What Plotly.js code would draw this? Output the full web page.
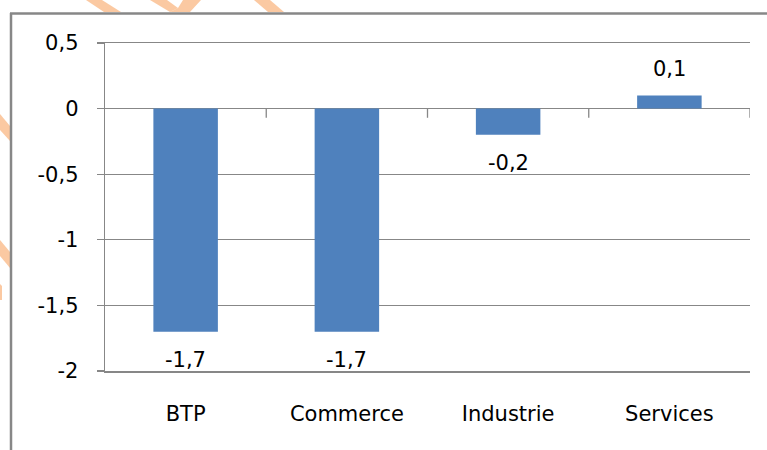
<!DOCTYPE html>
<html>
<head>
<meta charset="utf-8">
<script src="https://cdn.plot.ly/plotly-3.0.1.min.js"></script>
<style>html,body{margin:0;padding:0;background:#fff;}#chart{width:767px;height:450px;}</style>
</head>
<body>
<div id="chart"></div>
<script>
const categories = ['BTP', 'Commerce', 'Industrie', 'Services'];
const values = [-1.7, -1.7, -0.2, 0.1];
const tickValues = [0.5, 0, -0.5, -1, -1.5, -2];
const tickLabels = ['0,5', '0', '-0,5', '-1', '-1,5', '-2'];

const W = 767, H = 450;
const M = {l: 105, r: 17, t: 43, b: 79};
const pw = W - M.l - M.r, ph = H - M.t - M.b;
const grey = '#878787';
const px = x => (x - M.l) / pw;
const py = y => 1 - (y - M.t) / ph;

function poly(pts) {
  return 'M' + pts.map(p => px(p[0]) + ',' + py(p[1])).join(' L') + ' Z';
}

const shapes = [];
// frame lines (left and top)
shapes.push({type: 'line', xref: 'paper', yref: 'paper', x0: px(11), x1: px(11), y0: py(13), y1: py(H + 5), line: {color: grey, width: 2.5}});
shapes.push({type: 'line', xref: 'paper', yref: 'paper', x0: px(10), x1: px(W + 5), y0: py(13.5), y1: py(13.5), line: {color: grey, width: 2.5}});
// orange watermark fragments
const orange = 'rgba(248,165,100,0.6)';
const wm = [
  [[86,0],[102,0],[121,12],[104,12]],
  [[150,0],[167,0],[178,8],[170,12]],
  [[183,0],[201,0],[190,12],[170,12],[178,8]],
  [[254,0],[270,0],[284,12],[268,12]],
  [[0,114],[0,130],[10,141],[10,126]],
  [[0,240],[0,256],[10,268],[10,252]],
  [[0,284],[2,286],[2,300],[0,300]]
];
wm.forEach(p => shapes.push({type: 'path', xref: 'paper', yref: 'paper', path: poly(p), fillcolor: orange, line: {width: 0}, layer: 'below'}));
// category separator ticks on zero line
categories.forEach((c, i) => {
  shapes.push({type: 'line', xref: 'x', yref: 'y', x0: i + 0.5, x1: i + 0.5, y0: 0, y1: -0.07, line: {color: grey, width: 1.3}});
});

const annotations = categories.map((c, i) => ({
  x: c, y: values[i], xref: 'x', yref: 'y',
  text: String(values[i]).replace('.', ','),
  showarrow: false, yanchor: 'middle',
  yshift: values[i] < 0 ? -28 : 26,
  font: {family: 'DejaVu Sans', size: 21, color: '#000'}
}));

Plotly.newPlot('chart', [{
  type: 'bar', x: categories, y: values,
  marker: {color: '#4F81BD', line: {width: 0}},
  hoverinfo: 'none'
}], {
  width: W, height: H,
  margin: M,
  paper_bgcolor: '#fff', plot_bgcolor: '#fff',
  showlegend: false,
  bargap: 0.6,
  font: {family: 'DejaVu Sans', size: 21, color: '#000'},
  xaxis: {
    type: 'category', range: [-0.5, 3.5],
    showline: true, mirror: true, linecolor: grey, linewidth: 1.5,
    ticks: '', showgrid: false, zeroline: false,
    ticklabelstandoff: 23,
    tickfont: {family: 'DejaVu Sans', size: 21, color: '#000'}
  },
  yaxis: {
    range: [-2, 0.5], tickvals: tickValues, ticktext: tickLabels,
    showline: true, linecolor: grey, linewidth: 1.3,
    ticks: 'outside', ticklen: 7, tickcolor: grey, tickwidth: 1.3,
    showgrid: true, gridcolor: grey, gridwidth: 1.3, zeroline: true, zerolinecolor: grey, zerolinewidth: 1.5,
    ticklabelstandoff: 14,
    tickfont: {family: 'DejaVu Sans', size: 21, color: '#000'}
  },
  shapes: shapes,
  annotations: annotations
}, {displayModeBar: false, staticPlot: true});
</script>
</body>
</html>
